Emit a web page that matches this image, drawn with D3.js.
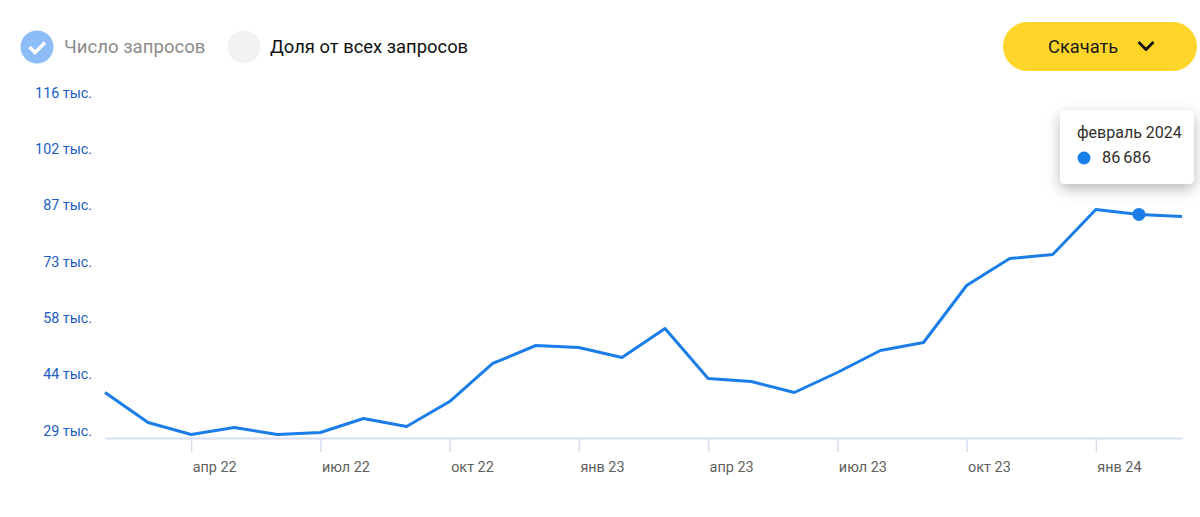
<!DOCTYPE html>
<html><head><meta charset="utf-8">
<script src="https://cdn.jsdelivr.net/npm/d3@7"></script>
<style>
html,body{margin:0;padding:0;background:#fff;overflow:hidden}
svg{display:block;font-family:Roboto,sans-serif}
</style></head><body>
<svg id="c" width="1200" height="517"></svg>
<script>
const months=["фев 22","мар 22","апр 22","май 22","июн 22","июл 22","авг 22","сен 22","окт 22","ноя 22","дек 22","янв 23","фев 23","мар 23","апр 23","май 23","июн 23","июл 23","авг 23","сен 23","окт 23","ноя 23","дек 23","янв 24","фев 24","мар 24"];
const requests=[40840,33120,30030,31830,30030,30540,34150,32090,38520,48310,52940,52420,49850,57310,44440,43670,40840,45990,51650,53710,68380,75330,76360,87940,86686,86140];
const yTicks=[29000,43500,58000,72500,87000,101500,116000];
const yLabels=["29 тыс.","44 тыс.","58 тыс.","73 тыс.","87 тыс.","102 тыс.","116 тыс."];
const xTicks=["апр 22","июл 22","окт 22","янв 23","апр 23","июл 23","окт 23","янв 24"];
const legendLabels=["Число запросов","Доля от всех запросов"];
const buttonLabel="Скачать";
const tipTitle="февраль 2024";
const tipValue="86 686";
const tipMonth="фев 24";

const svg=d3.select("#c");
const defs=svg.append("defs");
const f=defs.append("filter").attr("id","sh").attr("x","-30%").attr("y","-30%").attr("width","160%").attr("height","170%");
f.append("feDropShadow").attr("dx",0).attr("dy",5).attr("stdDeviation",7).attr("flood-color","#000").attr("flood-opacity",0.28);

const x=d3.scalePoint().domain(months).range([105,1182]);
const y=d3.scaleLinear().domain([29000,116000]).range([438.5,100.5]);

// x axis
const ax=svg.append("g").attr("transform","translate(0,438)")
  .call(d3.axisBottom(x).tickValues(xTicks).tickSizeInner(14).tickSizeOuter(0).tickPadding(8));
ax.select(".domain").attr("stroke","#d6dff0").attr("stroke-width",2);
ax.selectAll(".tick line").attr("stroke","#d6dff0").attr("stroke-width",1.5);
ax.selectAll(".tick text").attr("fill","#605f5c").attr("font-size",14.4).attr("font-family","Roboto,sans-serif")
  .attr("text-anchor","start").attr("x",1).attr("y",24);

// y axis labels
svg.append("g").selectAll("text").data(yTicks).join("text")
  .attr("x",92).attr("y",d=>y(d)-3).attr("text-anchor","end")
  .attr("font-size",14.3).attr("fill","#1a5cc4")
  .text((d,i)=>yLabels[i]);

// line
svg.append("path").datum(requests)
  .attr("fill","none").attr("stroke","#1a7de8").attr("stroke-width",3).attr("stroke-linejoin","round")
  .attr("d",d3.line().x((d,i)=>x(months[i])).y(d=>y(d)));
const ti=months.indexOf(tipMonth);
svg.append("circle").attr("cx",x(tipMonth)).attr("cy",y(requests[ti])).attr("r",6.5).attr("fill","#1a7de8");

// tooltip
svg.append("rect").attr("x",1060).attr("y",110).attr("width",134).attr("height",74).attr("rx",5).attr("fill","#fff").attr("filter","url(#sh)");
svg.append("text").attr("x",1077).attr("y",138).attr("font-size",16).attr("fill","#33302c").text(tipTitle);
svg.append("circle").attr("cx",1084).attr("cy",158).attr("r",6.5).attr("fill","#1a7de8");
svg.append("text").attr("x",1102).attr("y",163).attr("font-size",16.3).attr("word-spacing",-1).attr("fill","#33302c").text(tipValue);

// legend
svg.append("circle").attr("cx",37).attr("cy",47).attr("r",16.5).attr("fill","#8dbdf6");
svg.append("path").attr("d","M29.5 47 L35 52.5 L45 42.5").attr("fill","none").attr("stroke","#fff").attr("stroke-width",3.5);
svg.append("text").attr("x",64).attr("y",53).attr("font-size",18.6).attr("fill","#8c8c8c").text(legendLabels[0]);
svg.append("circle").attr("cx",244).attr("cy",47).attr("r",16.5).attr("fill","#f2f2f2");
svg.append("text").attr("x",270).attr("y",53).attr("font-size",18.4).attr("fill","#111").text(legendLabels[1]);

// button
svg.append("rect").attr("x",1003).attr("y",22).attr("width",194).attr("height",49).attr("rx",24.5).attr("fill","#ffd52a");
svg.append("text").attr("x",1048).attr("y",53).attr("font-size",18.3).attr("fill","#1a1a1a").text(buttonLabel);
svg.append("path").attr("d","M1138.5 42 L1146 49.5 L1153.5 42").attr("fill","none").attr("stroke","#111").attr("stroke-width",2.8);
</script>
</body></html>
